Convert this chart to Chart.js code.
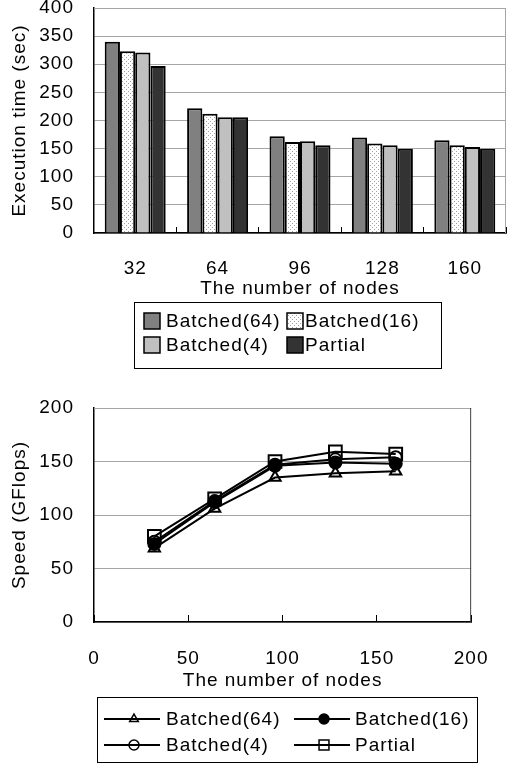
<!DOCTYPE html>
<html>
<head>
<meta charset="utf-8">
<script src="https://cdn.jsdelivr.net/npm/chart.js@4.4.0/dist/chart.umd.min.js"></script>
<style>
  body { margin: 0; background: #fff; }
  #wrap { position: relative; width: 519px; height: 763px; overflow: hidden; }
  canvas { position: absolute; left: 0; }
  #timeChart { top: -25px; }
  #speedChart { top: 370px; }
</style>
</head>
<body>
<div id="wrap">
  <canvas id="timeChart" width="519" height="400"></canvas>
  <canvas id="speedChart" width="519" height="393"></canvas>
</div>
<script>
// data
const nodes = [32, 64, 96, 128, 160];
const seriesNames = ['Batched(64)', 'Batched(16)', 'Batched(4)', 'Partial'];

const timeBatched64 = [340, 222, 172, 170, 165];
const timeBatched16 = [323, 212, 162, 159, 156];
const timeBatched4 = [321, 206, 163, 156, 153];
const timePartial = [297, 206, 156, 150, 150];
const timeTicks = [0, 50, 100, 150, 200, 250, 300, 350, 400];

const speedBatched64 = [69, 106, 135, 139, 141];
const speedBatched16 = [73, 112, 146, 149, 148];
const speedBatched4 = [75, 113, 147, 152, 154];
const speedPartial = [80, 115, 150, 159, 157];
const speedTicks = [0, 50, 100, 150, 200];
const nodeTicks = [0, 50, 100, 150, 200];

const FONT = '"Liberation Sans", Arial, sans-serif';
Chart.defaults.font.family = FONT;
Chart.defaults.font.size = 19;
Chart.defaults.color = '#000';

// dotted fill for Batched(16)
function dotPattern() {
    const c = document.createElement('canvas');
    c.width = 4;
    c.height = 4;
    const g = c.getContext('2d');
    g.fillStyle = '#fff';
    g.fillRect(0, 0, 4, 4);
    g.fillStyle = '#a0a0a0';
    g.fillRect(0, 0, 1, 1);
    g.fillRect(2, 2, 1, 1);
    return g.createPattern(c, 'repeat');
}
const dots = dotPattern();

// the source font is wider, spread the letters a bit
const spacing = {
    id: 'spacing',
    beforeDraw(chart) {
        chart.ctx.letterSpacing = '1px';
    }
};

function plotFrame(topColor, rightColor) {
    return {
        id: 'plotFrame',
        beforeDatasetsDraw(chart) {
            const { ctx, chartArea: a } = chart;
            ctx.save();
            ctx.lineWidth = 1;
            ctx.strokeStyle = topColor;
            ctx.beginPath();
            ctx.moveTo(a.left, a.top + 0.5);
            ctx.lineTo(a.right, a.top + 0.5);
            ctx.stroke();
            ctx.strokeStyle = rightColor;
            ctx.beginPath();
            ctx.moveTo(a.right - 0.5, a.top);
            ctx.lineTo(a.right - 0.5, a.bottom);
            ctx.stroke();
            ctx.restore();
        }
    };
}

function drawMarker(ctx, style, x, y, r, fill) {
    ctx.beginPath();
    if (style === 'triangle') {
        ctx.moveTo(x, y - r);
        ctx.lineTo(x + r * 0.866, y + r * 0.5);
        ctx.lineTo(x - r * 0.866, y + r * 0.5);
        ctx.closePath();
    } else if (style === 'rect') {
        const s = r * Math.SQRT1_2;
        ctx.rect(x - s, y - s, 2 * s, 2 * s);
    } else {
        ctx.arc(x, y, r, 0, Math.PI * 2);
    }
    if (fill !== 'rgba(0,0,0,0)') {
        ctx.fillStyle = fill;
        ctx.fill();
    }
    ctx.stroke();
}

function barKey(ctx, ds, x, y) {
    ctx.fillStyle = ds.backgroundColor;
    ctx.fillRect(x, y - 8, 16, 16);
    ctx.lineWidth = 1.5;
    ctx.strokeStyle = '#000';
    ctx.strokeRect(x, y - 8, 16, 16);
}

function lineKey(ctx, ds, x, y) {
    ctx.lineWidth = 2;
    ctx.strokeStyle = '#000';
    ctx.beginPath();
    ctx.moveTo(x, y);
    ctx.lineTo(x + 56, y);
    ctx.stroke();
    ctx.lineWidth = 1.5;
    drawMarker(ctx, ds.pointStyle, x + 30, y, ds.pointStyle === 'rect' ? 7 : 5, ds.pointBackgroundColor);
}

function makeLegend(box, cols, rows, drawKey) {
    return {
        id: 'boxLegend',
        afterDraw(chart) {
            const ctx = chart.ctx;
            ctx.save();
            ctx.lineWidth = 1;
            ctx.strokeStyle = '#000';
            ctx.strokeRect(box.x + 0.5, box.y + 0.5, box.w, box.h);
            ctx.font = '19px ' + FONT;
            ctx.textBaseline = 'middle';
            ctx.letterSpacing = '1px';
            chart.data.datasets.forEach((ds, i) => {
                const c = cols[i % 2];
                const y = rows[Math.floor(i / 2)];
                drawKey(ctx, ds, c.key, y);
                ctx.fillStyle = '#000';
                ctx.fillText(ds.label, c.text, y + 1);
            });
            ctx.restore();
        }
    };
}

new Chart(document.getElementById('timeChart'), {
    type: 'bar',
    data: {
        labels: nodes,
        datasets: [
            { label: seriesNames[0], data: timeBatched64, backgroundColor: '#808080' },
            { label: seriesNames[1], data: timeBatched16, backgroundColor: dots },
            { label: seriesNames[2], data: timeBatched4, backgroundColor: '#c0c0c0' },
            { label: seriesNames[3], data: timePartial, backgroundColor: '#333333' }
        ]
    },
    options: {
        responsive: false,
        animation: false,
        devicePixelRatio: 1,
        layout: { padding: { top: 33, right: 13, bottom: 75, left: 0 } },
        datasets: {
            bar: { borderColor: '#000', borderWidth: 2, categoryPercentage: 0.74, barPercentage: 1 }
        },
        plugins: { legend: { display: false }, tooltip: { enabled: false }, colors: { enabled: false } },
        scales: {
            x: {
                grid: { drawOnChartArea: false, tickLength: -6, color: '#000', offset: true },
                border: { color: '#000', width: 1.5 },
                ticks: { padding: 30, maxRotation: 0 },
                title: { display: true, text: 'The number of nodes', padding: 0 },
                afterFit: s => { s.height = 67; }
            },
            y: {
                min: 0,
                max: 400,
                afterBuildTicks: s => { s.ticks = timeTicks.map(v => ({ value: v })); },
                grid: { color: '#a6a6a6', drawTicks: false },
                border: { color: '#000', width: 1.5 },
                ticks: { padding: 20, autoSkip: false },
                title: { display: true, text: 'Execution time (sec)', padding: { top: 8, bottom: 0 } },
                afterFit: s => { s.width = 94; }
            }
        }
    },
    plugins: [
        spacing,
        plotFrame('#a6a6a6', '#a6a6a6'),
        makeLegend({ x: 134, y: 327, w: 307, h: 66 },
            [{ key: 144, text: 166 }, { key: 287, text: 305 }], [346, 370], barKey)
    ]
});

const pts = arr => nodes.map((n, i) => ({ x: n, y: arr[i] }));

new Chart(document.getElementById('speedChart'), {
    type: 'line',
    data: {
        datasets: [
            { label: seriesNames[0], data: pts(speedBatched64), pointStyle: 'triangle', pointRadius: 6.5, pointBackgroundColor: 'rgba(0,0,0,0)' },
            { label: seriesNames[1], data: pts(speedBatched16), pointStyle: 'circle', pointRadius: 6, pointBackgroundColor: '#000' },
            { label: seriesNames[2], data: pts(speedBatched4), pointStyle: 'circle', pointRadius: 6, pointBackgroundColor: 'rgba(0,0,0,0)' },
            { label: seriesNames[3], data: pts(speedPartial), pointStyle: 'rect', pointRadius: 9, pointBackgroundColor: 'rgba(0,0,0,0)' }
        ].map(ds => Object.assign(ds, {
            borderColor: '#000', borderWidth: 2, pointBorderColor: '#000', pointBorderWidth: 2, tension: 0
        }))
    },
    options: {
        responsive: false,
        animation: false,
        devicePixelRatio: 1,
        layout: { padding: { top: 38, right: 19, bottom: 66, left: 0 } },
        plugins: { legend: { display: false }, tooltip: { enabled: false }, colors: { enabled: false } },
        scales: {
            x: {
                type: 'linear',
                min: 0,
                max: 200,
                afterBuildTicks: s => { s.ticks = nodeTicks.map(v => ({ value: v })); },
                grid: { drawOnChartArea: false, tickLength: -7, color: '#000' },
                border: { color: '#000', width: 1.5 },
                ticks: { padding: 32, maxRotation: 0, autoSkip: false },
                title: { display: true, text: 'The number of nodes', padding: { top: 0, bottom: 5 } },
                afterFit: s => { s.height = 75; }
            },
            y: {
                min: 0,
                max: 200,
                afterBuildTicks: s => { s.ticks = speedTicks.map(v => ({ value: v })); },
                grid: { color: '#a6a6a6', drawTicks: false },
                border: { color: '#000', width: 1.5 },
                ticks: { padding: 20, autoSkip: false },
                title: { display: true, text: 'Speed (GFlops)', padding: { top: 8, bottom: 0 } },
                afterFit: s => { s.width = 94; }
            }
        }
    },
    plugins: [
        spacing,
        plotFrame('#a6a6a6', '#404040'),
        makeLegend({ x: 97, y: 327, w: 380, h: 65 },
            [{ key: 104, text: 166 }, { key: 294, text: 355 }], [349, 375], lineKey)
    ]
});
</script>
</body>
</html>
